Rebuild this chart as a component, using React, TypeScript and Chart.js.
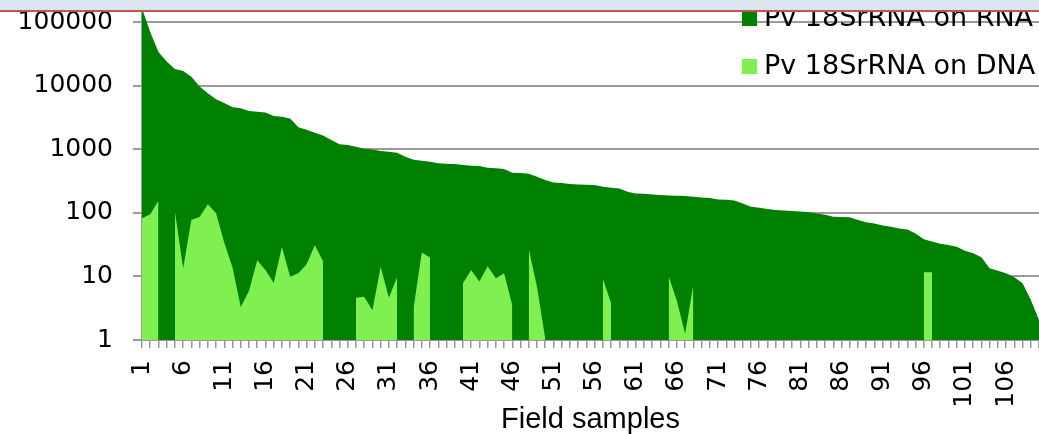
import React, { useEffect, useRef } from "react";
import { Chart, registerables } from "chart.js";

Chart.register(...registerables);

// Pv 18SrRNA copies per field sample, measured on RNA (sorted high to low)
const rnaCopies: number[] = [
  165000, 70000, 34000, 24000, 18400, 17000, 13900, 9700, 7650, 6160,
  5330, 4610, 4410, 4020, 3900, 3780, 3350, 3260, 3050, 2230,
  2040, 1830, 1650, 1400, 1200, 1170, 1095, 1020, 995, 937,
  914, 881, 762, 684, 660, 636, 606, 591, 585, 564,
  550, 544, 512, 503, 488, 428, 423, 413, 370, 328,
  301, 294, 284, 280, 277, 274, 257, 248, 242, 215,
  202, 200, 195, 191, 187, 186, 184, 179, 175, 171,
  163, 161, 157, 141, 125, 120, 115, 111, 109, 107,
  105, 102, 98, 93.5, 87, 86, 85, 77, 71, 68,
  63.5, 60.5, 57, 55, 47.5, 38.3, 35.6, 32.7, 31.2, 29.4,
  25.4, 23.1, 20, 13.4, 12.3, 11.2, 9.7, 7.8, 4.3, 2.06,
];

// Same samples measured on DNA; null = not detected
const dnaCopies: (number | null)[] = [
  82, 95, 155, null, 104, 13.4, 78, 86, 137, 99,
  34, 13.8, 3.3, 5.9, 18, 12.6, 7.9, 29, 9.9, 11.2,
  15.5, 31, 17.5, null, null, null, 4.6, 4.8, 2.95, 14.2,
  4.6, 9.7, null, 3.2, 23.8, 19.8, null, null, null, 7.8,
  12.6, 8.3, 14.4, 9.4, 11.2, 3.5, null, 26.7, 6.9, 1.06,
  null, null, null, null, null, null, 9.2, 3.8, null, null,
  null, null, null, null, 10.1, 4.1, 1.25, 7.4, null, null,
  null, null, null, null, null, null, null, null, null, null,
  null, null, null, null, null, null, null, null, null, null,
  null, null, null, null, null, 11.6, 11.6, null, null, null,
  null, null, null, null, null, null, null, null, null, null,
];

const sampleLabels: string[] = rnaCopies.map((_, i) => String(i + 1));

const yTicks: number[] = [1, 10, 100, 1000, 10000, 100000];
const Y_MIN = 1;
const Y_MAX = 150000;

const seriesNames: string[] = ["Pv 18SrRNA on RNA", "Pv 18SrRNA on DNA"];
const seriesColors: string[] = ["#008000", "#7ff04f"];

const GRID_GRAY = "#9a9a9a";

// Legend drawn inside the plot, top right, without a background box
const insideLegend = {
  id: "insideLegend",
  afterDraw(chart: any) {
    const ctx = chart.ctx as CanvasRenderingContext2D;
    ctx.save();
    ctx.font = '27px "DejaVu Sans"';
    ctx.textAlign = "left";
    ctx.textBaseline = "middle";
    const rows = [18.5, 66.5];
    seriesNames.forEach((name, i) => {
      const cy = rows[i];
      ctx.fillStyle = seriesColors[i];
      ctx.fillRect(742, cy - 7.5, 15, 15);
      ctx.fillStyle = "#000";
      ctx.fillText(name, 764, cy);
    });
    ctx.restore();
  },
};

export default function App() {
  const canvasRef = useRef<HTMLCanvasElement | null>(null);

  useEffect(() => {
    const canvas = canvasRef.current;
    if (!canvas) return;
    const chart = new Chart(canvas, {
      type: "line",
      data: {
        labels: sampleLabels,
        datasets: [
          {
            label: seriesNames[0],
            data: rnaCopies,
            backgroundColor: seriesColors[0],
            borderColor: "rgba(0,0,0,0)",
            borderWidth: 0,
            fill: "origin",
            pointRadius: 0,
            tension: 0,
            order: 2,
          },
          {
            label: seriesNames[1],
            data: dnaCopies,
            backgroundColor: seriesColors[1],
            borderColor: "rgba(0,0,0,0)",
            borderWidth: 0,
            fill: "origin",
            pointRadius: 0,
            tension: 0,
            spanGaps: false,
            order: 1,
          },
        ],
      },
      options: {
        responsive: false,
        animation: false,
        devicePixelRatio: 1,
        layout: { padding: { top: 11, left: 0, right: 0, bottom: 0 } },
        plugins: {
          legend: { display: false },
          tooltip: { enabled: false },
        },
        elements: { point: { radius: 0, hoverRadius: 0 } },
        scales: {
          x: {
            type: "category",
            offset: false,
            grid: {
              drawOnChartArea: false,
              drawTicks: true,
              tickLength: 8,
              color: GRID_GRAY,
              lineWidth: 1.5,
            },
            border: { display: true, color: GRID_GRAY, width: 2 },
            ticks: {
              autoSkip: false,
              minRotation: 90,
              maxRotation: 90,
              padding: 12,
              color: "#000",
              font: { family: "DejaVu Sans", size: 25 },
              callback: function (this: any, value: any, index: number) {
                return index % 5 === 0 ? this.getLabelForValue(value) : "";
              },
            },
            title: {
              display: true,
              text: "Field samples",
              color: "#000",
              font: { family: "Liberation Sans", size: 29, lineHeight: 1 },
              padding: 0,
            },
            afterFit: (scale: any) => {
              scale.height = 94;
              scale.paddingLeft = 0;
              scale.paddingRight = 0;
            },
          },
          y: {
            type: "logarithmic",
            min: Y_MIN,
            max: Y_MAX,
            afterBuildTicks: (scale: any) => {
              scale.ticks = yTicks.map((v) => ({ value: v }));
            },
            grid: {
              color: GRID_GRAY,
              lineWidth: 2,
              drawTicks: true,
              tickLength: 9,
            },
            border: { display: true, color: GRID_GRAY, width: 2 },
            ticks: {
              padding: 20,
              color: "#000",
              font: { family: "DejaVu Sans", size: 25 },
              callback: (v: any) => String(v),
            },
            afterFit: (scale: any) => {
              scale.width = 142;
              scale.paddingTop = 0;
              scale.paddingBottom = 0;
            },
          },
        },
      },
      plugins: [insideLegend],
    });
    return () => chart.destroy();
  }, []);

  return (
    <div
      style={{
        position: "fixed",
        left: 0,
        top: 0,
        width: 1039,
        height: 434,
        background: "#fff",
        overflow: "hidden",
      }}
    >
      <canvas
        ref={canvasRef}
        width={1039}
        height={434}
        style={{ position: "absolute", left: 0, top: 0, width: 1039, height: 434 }}
      />
      <div
        style={{
          position: "absolute",
          left: 0,
          top: 0,
          width: 1039,
          height: 10,
          background: "#dbe5f0",
          borderBottom: "2px solid #c8504e",
          zIndex: 1,
        }}
      />
    </div>
  );
}
